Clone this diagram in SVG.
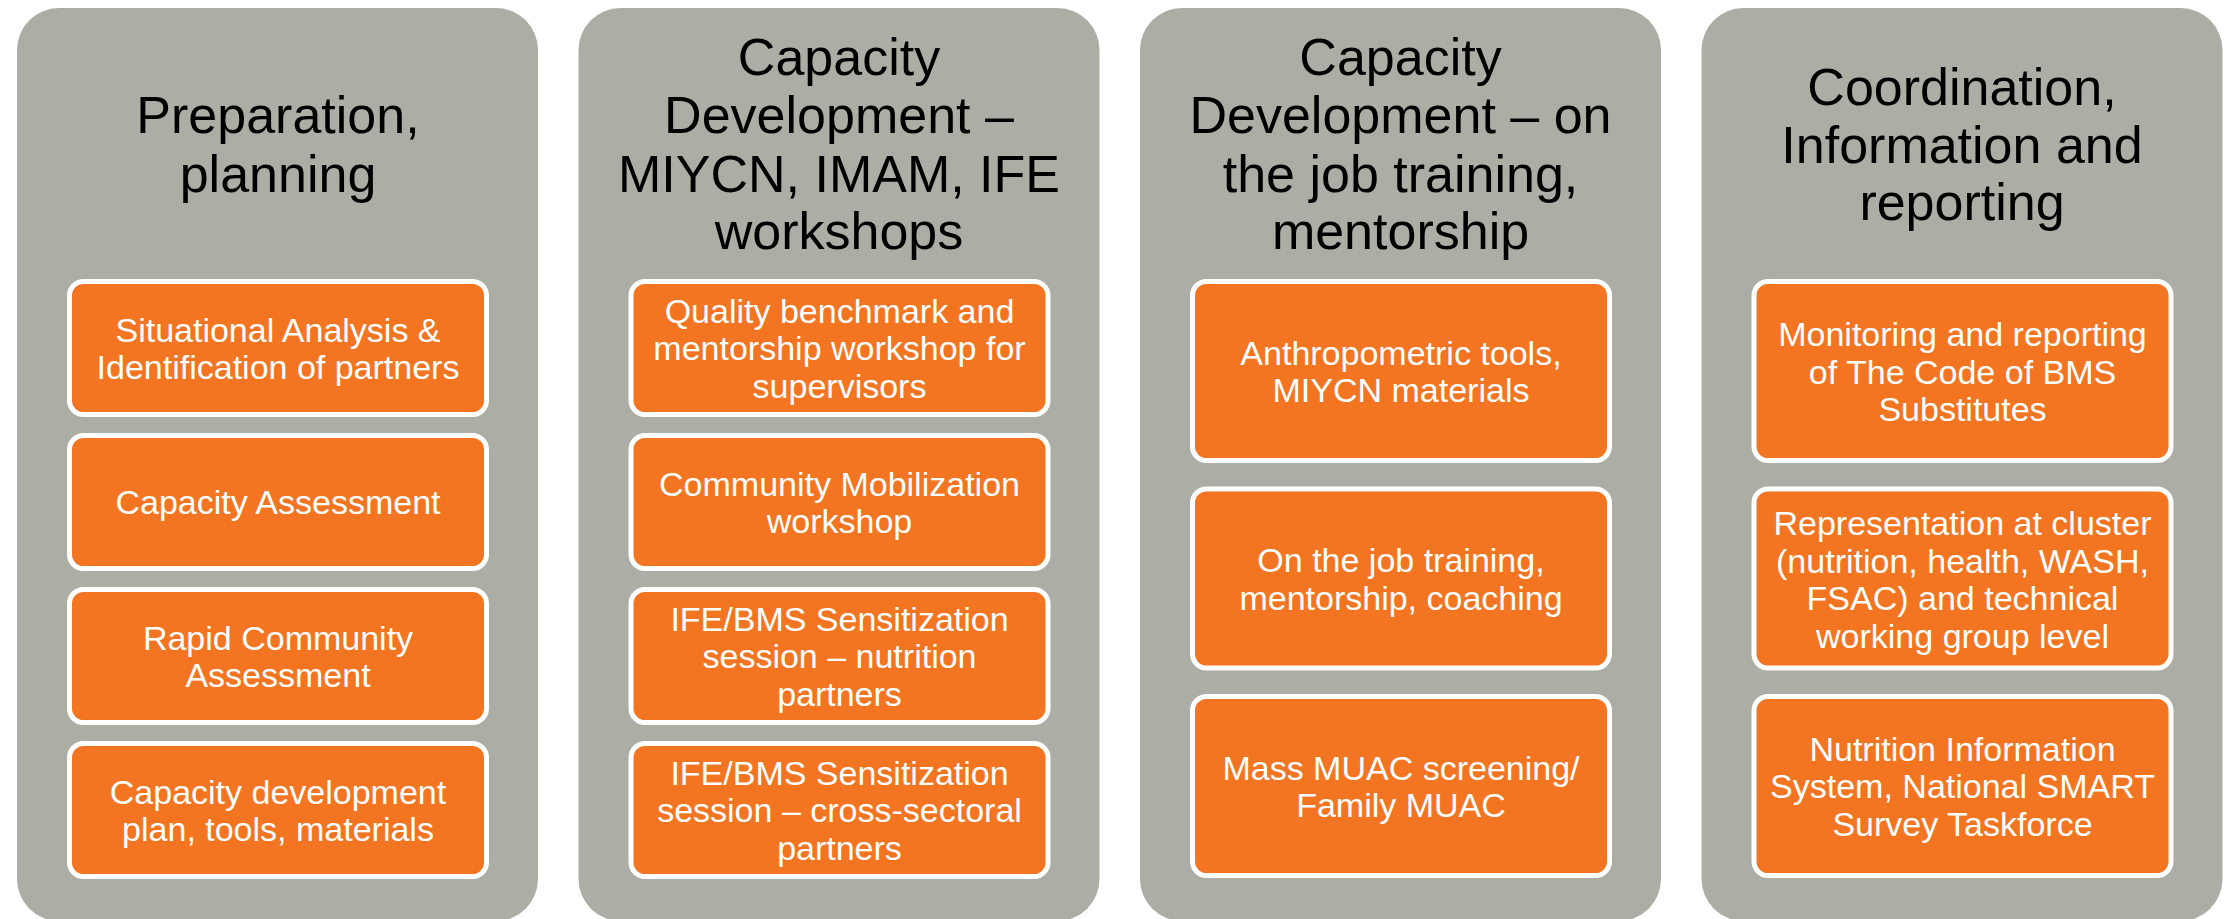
<svg xmlns="http://www.w3.org/2000/svg" width="2230" height="919" viewBox="0 0 2230 919">
<style>
.panel{fill:#ACADA4}
.box{fill:#F37521;stroke:#FFFFFF;stroke-width:5}
.title{font-family:"Liberation Sans",Arial,sans-serif;font-size:52px;fill:#000000;text-anchor:middle}
.lbl{font-family:"Liberation Sans",Arial,sans-serif;font-size:34px;fill:#FFFFFF;text-anchor:middle}
</style>
<rect width="2230" height="919" fill="#FFFFFF"/>
<g id="col1">
<rect class="panel" x="17" y="8" width="521" height="913" rx="42"/>
<text class="title" x="278" y="133">Preparation,</text>
<text class="title" x="278" y="192">planning</text>
</g>
<g id="col1-box1"><rect class="box" x="69.5" y="281.5" width="417" height="133" rx="14"/>
<text class="lbl" x="278" y="341.5">Situational Analysis &amp;</text><text class="lbl" x="278" y="379">Identification of partners</text></g>
<g id="col1-box2"><rect class="box" x="69.5" y="435.5" width="417" height="133" rx="14"/>
<text class="lbl" x="278" y="514">Capacity Assessment</text></g>
<g id="col1-box3"><rect class="box" x="69.5" y="589.5" width="417" height="133" rx="14"/>
<text class="lbl" x="278" y="649.5">Rapid Community</text><text class="lbl" x="278" y="687">Assessment</text></g>
<g id="col1-box4"><rect class="box" x="69.5" y="743.5" width="417" height="133" rx="14"/>
<text class="lbl" x="278" y="803.5">Capacity development</text><text class="lbl" x="278" y="841">plan, tools, materials</text></g>

<g id="col2">
<rect class="panel" x="578.5" y="8" width="521" height="913" rx="42"/>
<text class="title" x="839" y="75">Capacity</text>
<text class="title" x="839" y="133">Development –</text>
<text class="title" x="839" y="192">MIYCN, IMAM, IFE</text>
<text class="title" x="839" y="249">workshops</text>
</g>
<g id="col2-box1"><rect class="box" x="631" y="281.5" width="417" height="133" rx="14"/>
<text class="lbl" x="839.5" y="322.7">Quality benchmark and</text><text class="lbl" x="839.5" y="360.2">mentorship workshop for</text><text class="lbl" x="839.5" y="397.7">supervisors</text></g>
<g id="col2-box2"><rect class="box" x="631" y="435.5" width="417" height="133" rx="14"/>
<text class="lbl" x="839.5" y="495.5">Community Mobilization</text><text class="lbl" x="839.5" y="533">workshop</text></g>
<g id="col2-box3"><rect class="box" x="631" y="589.5" width="417" height="133" rx="14"/>
<text class="lbl" x="839.5" y="630.7">IFE/BMS Sensitization</text><text class="lbl" x="839.5" y="668.2">session – nutrition</text><text class="lbl" x="839.5" y="705.7">partners</text></g>
<g id="col2-box4"><rect class="box" x="631" y="743.5" width="417" height="133" rx="14"/>
<text class="lbl" x="839.5" y="784.7">IFE/BMS Sensitization</text><text class="lbl" x="839.5" y="822.2">session – cross-sectoral</text><text class="lbl" x="839.5" y="859.7">partners</text></g>

<g id="col3">
<rect class="panel" x="1140" y="8" width="521" height="913" rx="42"/>
<text class="title" x="1400.5" y="75">Capacity</text>
<text class="title" x="1400.5" y="133">Development – on</text>
<text class="title" x="1400.5" y="192">the job training,</text>
<text class="title" x="1400.5" y="249">mentorship</text>
</g>
<g id="col3-box1"><rect class="box" x="1192.5" y="281.5" width="417" height="179" rx="14"/>
<text class="lbl" x="1401" y="364.5">Anthropometric tools,</text><text class="lbl" x="1401" y="402">MIYCN materials</text></g>
<g id="col3-box2"><rect class="box" x="1192.5" y="489" width="417" height="179" rx="14"/>
<text class="lbl" x="1401" y="572">On the job training,</text><text class="lbl" x="1401" y="609.5">mentorship, coaching</text></g>
<g id="col3-box3"><rect class="box" x="1192.5" y="696.5" width="417" height="179" rx="14"/>
<text class="lbl" x="1401" y="779.5">Mass MUAC screening/</text><text class="lbl" x="1401" y="817">Family MUAC</text></g>

<g id="col4">
<rect class="panel" x="1701.5" y="8" width="521" height="913" rx="42"/>
<text class="title" x="1962" y="105">Coordination,</text>
<text class="title" x="1962" y="163">Information and</text>
<text class="title" x="1962" y="220">reporting</text>
</g>
<g id="col4-box1"><rect class="box" x="1754" y="281.5" width="417" height="179" rx="14"/>
<text class="lbl" x="1962.5" y="346">Monitoring and reporting</text><text class="lbl" x="1962.5" y="383.5">of The Code of BMS</text><text class="lbl" x="1962.5" y="421">Substitutes</text></g>
<g id="col4-box2"><rect class="box" x="1754" y="489" width="417" height="179" rx="14"/>
<text class="lbl" x="1962.5" y="535">Representation at cluster</text><text class="lbl" x="1962.5" y="572.5">(nutrition, health, WASH,</text><text class="lbl" x="1962.5" y="610">FSAC) and technical</text><text class="lbl" x="1962.5" y="647.5">working group level</text></g>
<g id="col4-box3"><rect class="box" x="1754" y="696.5" width="417" height="179" rx="14"/>
<text class="lbl" x="1962.5" y="760.7">Nutrition Information</text><text class="lbl" x="1962.5" y="798.2">System, National SMART</text><text class="lbl" x="1962.5" y="835.7">Survey Taskforce</text></g>
<g id="connectors"></g>
</svg>
